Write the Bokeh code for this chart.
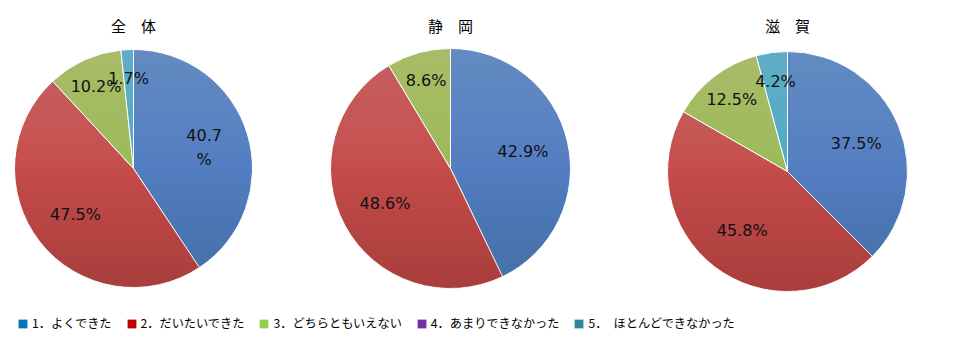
import numpy as np
from bokeh.plotting import figure
from bokeh.models import Range1d, Legend, LegendItem, ColumnDataSource
from bokeh.core.properties import value
from bokeh.embed import file_html
from bokeh.resources import INLINE

# ---- data ----
categories = ["1．よくできた", "2．だいたいできた", "3．どちらともいえない",
              "4．あまりできなかった", "5．　ほとんどできなかった"]
chart_titles = ["全　体", "静　岡", "滋　賀"]
vals_zentai = [40.7, 47.5, 10.2, 0.0, 1.7]
vals_shizuoka = [42.9, 48.6, 8.6, 0.0, 0.0]
vals_shiga = [37.5, 45.8, 12.5, 0.0, 4.2]
labels_zentai = ["40.7\n%", "47.5%", "10.2%", "", "1.7%"]
labels_shizuoka = ["42.9%", "48.6%", "8.6%", "", ""]
labels_shiga = ["37.5%", "45.8%", "12.5%", "", "4.2%"]

# ---- style ----
W, H = 955, 349
slice_colors = ["#527DC2", "#C54C4A", "#9BBB59", "#8064A2", "#4BACC6"]
legend_colors = ["#0070C0", "#C00000", "#92D050", "#7030A0", "#31859C"]
pies = [  # (cx, cy, r) in pixel-like data units
    (133, 181, 119),
    (450, 181, 120),
    (787, 178, 120),
]

p = figure(width=W, height=H, output_backend="svg", toolbar_location=None,
           x_range=Range1d(0, W), y_range=Range1d(0, H),
           x_axis_location=None, y_axis_location=None, min_border=0)
p.outline_line_color = None
p.grid.visible = False
p.background_fill_color = "white"
p.border_fill_color = "white"

all_vals = [vals_zentai, vals_shizuoka, vals_shiga]
all_labels = [labels_zentai, labels_shizuoka, labels_shiga]

for (cx, cy, r), vals, labs, title in zip(pies, all_vals, all_labels, chart_titles):
    v = np.array(vals, dtype=float)
    frac = v / v.sum()
    cum = np.concatenate([[0.0], np.cumsum(frac)])
    keep = frac > 0
    f0 = cum[:-1][keep]
    f1 = cum[1:][keep]
    cols = [c for c, k in zip(slice_colors, keep) if k]
    src = ColumnDataSource(dict(
        x=[cx] * len(f0), y=[cy] * len(f0),
        start=np.pi / 2 - 2 * np.pi * f1,
        end=np.pi / 2 - 2 * np.pi * f0,
        color=cols))
    p.wedge(x="x", y="y", radius=r, start_angle="start", end_angle="end",
            fill_color="color", line_color="white", line_width=1, source=src)

    # vertical shading: light caps on top, dark caps at bottom
    n = 14
    for k in range(n):
        yl = cy + r * (1 - (k + 1) / n)
        ang = np.arcsin(np.clip((yl - cy) / r, -1, 1))
        th = np.linspace(ang, np.pi - ang, 60)
        p.patch(list(cx + r * np.cos(th)), list(cy + r * np.sin(th)),
                fill_color="white", fill_alpha=0.011, line_color=None)
        yl2 = cy - r * (1 - (k + 1) / n)
        ang2 = np.arcsin(np.clip((yl2 - cy) / r, -1, 1))
        th2 = np.linspace(np.pi - ang2, 2 * np.pi + ang2, 60)
        p.patch(list(cx + r * np.cos(th2)), list(cy + r * np.sin(th2)),
                fill_color="black", fill_alpha=0.006, line_color=None)

    # labels
    mid = (cum[:-1] + cum[1:]) / 2
    lx, ly, lt = [], [], []
    for i in range(len(v)):
        if v[i] <= 0:
            continue
        rf = 0.62 if frac[i] >= 0.2 else 0.76
        a = 2 * np.pi * mid[i]
        lx.append(cx + rf * r * np.sin(a))
        ly.append(cy + rf * r * np.cos(a))
        lt.append(labs[i])
    p.text(x=lx, y=ly, text=lt, text_align="center", text_baseline="middle",
           text_font=value("DejaVu Sans"), text_font_size="16px",
           text_color="#111111", text_line_height=1.25)

    p.text(x=[cx], y=[H - 25], text=[title], text_align="center",
           text_baseline="middle", text_font=value("Noto Sans CJK JP"),
           text_font_size="15px", text_color="#000000")

# legend
items = []
for name, c in zip(categories, legend_colors):
    rr = p.quad(left=[np.nan], right=[np.nan], top=[np.nan], bottom=[np.nan],
                fill_color=c, line_color=None)
    items.append(LegendItem(label=name, renderers=[rr]))
leg = Legend(items=items, orientation="horizontal", location=(17, 17),
             glyph_width=11, glyph_height=11, label_standoff=4, spacing=14,
             label_text_font="Noto Sans CJK JP", label_text_font_size="12.2px",
             label_text_color="#000000", label_height=14, padding=0, margin=0,
             border_line_color=None, background_fill_alpha=0)
p.add_layout(leg, "center")

open("out.html", "w").write(file_html(p, INLINE))
